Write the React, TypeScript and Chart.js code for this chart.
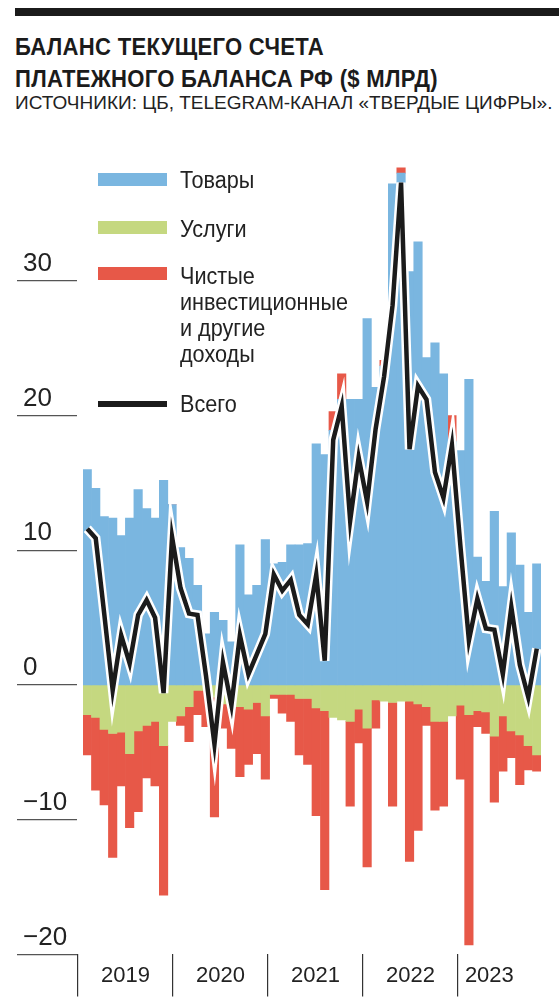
import React, { useEffect, useRef } from 'react';
import { Chart, registerables } from 'chart.js';

Chart.register(...registerables);

// ---- data (US$ bn, monthly) ----
const months = [
  '2019-01', '2019-02', '2019-03', '2019-04', '2019-05', '2019-06', '2019-07', '2019-08', '2019-09', '2019-10', '2019-11', '2019-12',
  '2020-01', '2020-02', '2020-03', '2020-04', '2020-05', '2020-06', '2020-07', '2020-08', '2020-09', '2020-10', '2020-11', '2020-12',
  '2021-01', '2021-02', '2021-03', '2021-04', '2021-05', '2021-06', '2021-07', '2021-08', '2021-09', '2021-10', '2021-11', '2021-12',
  '2022-01', '2022-02', '2022-03', '2022-04', '2022-05', '2022-06', '2022-07', '2022-08', '2022-09', '2022-10', '2022-11', '2022-12',
  '2023-01', '2023-02', '2023-03', '2023-04', '2023-05', '2023-06',
];

const goods = [
  16.0, 14.6, 12.5, 12.4, 11.1, 12.4, 14.5, 13.1, 12.4, 15.2, 13.4, 10.2,
  9.4, 7.4, 3.8, 5.4, 4.8, 3.2, 10.4, 6.7, 7.4, 10.8, 9.0, 9.1,
  10.4, 10.4, 10.5, 17.9, 17.1, 18.9, 21.2, 21.2, 21.2, 27.2, 22.1, 23.7,
  37.2, 38.0, 30.7, 32.9, 24.3, 25.4, 23.1, 18.1, 17.4, 22.7, 9.5, 7.7,
  12.9, 7.3, 11.3, 8.9, 5.4, 9.0,
];

const services = [
  -2.2, -2.4, -3.3, -3.6, -3.5, -5.1, -3.4, -3.0, -2.7, -4.5, -2.7, -2.3,
  -1.6, -0.4, -0.4, -0.9, -1.4, -1.6, -1.6, -1.8, -1.3, -2.3, -0.7, -0.7,
  -0.7, -1.0, -1.0, -1.7, -1.9, -2.4, -2.6, -2.7, -1.8, -3.2, -1.1, -1.2,
  -1.3, -1.2, -1.2, -1.4, -1.6, -2.7, -2.7, -2.3, -1.5, -2.2, -1.9, -2.0,
  -3.8, -2.3, -3.4, -3.7, -4.5, -5.2,
];

const income = [
  -3.0, -5.4, -5.6, -9.2, -4.0, -5.5, -6.0, -3.9, -4.8, -11.1, 0.0, -0.7,
  -2.6, -1.8, -2.7, -8.9, -1.8, -3.1, -5.2, -4.1, -3.8, -4.7, -0.3, -1.4,
  -2.0, -4.2, -4.9, -8.0, -13.3, 1.4, 1.9, -6.3, -2.5, -10.3, -2.1, 0.4,
  -7.7, 0.4, -11.9, -9.4, -1.4, -6.6, -6.3, 1.9, -5.5, -17.1, -1.2, -1.6,
  -4.9, -4.1, -2.0, -3.7, -1.8, -1.2,
];

const total = [
  11.6, 10.9, 5.3, -0.4, 3.7, 1.6, 5.2, 6.3, 5.0, -0.6, 11.0, 7.2,
  5.3, 5.2, 0.7, -4.4, 1.7, -1.5, 3.7, 0.8, 2.3, 3.8, 8.2, 7.0,
  7.8, 5.2, 4.5, 8.2, 1.8, 18.2, 20.7, 12.2, 16.9, 13.6, 19.0, 22.9,
  28.2, 37.3, 17.5, 22.2, 21.2, 15.8, 13.9, 17.8, 10.3, 3.3, 6.4, 4.2,
  4.1, 0.8, 5.8, 1.5, -0.9, 2.7,
];

const yTickValues = [-20, -10, 0, 10, 20, 30];
const yearLabels = ['2019', '2020', '2021', '2022', '2023'];
const yearLabelPositions = [0.5, 1.5, 2.5, 3.5, 4.33];

// ---- style ----
const FONT = '"Liberation Sans", Arial, sans-serif';
const BLUE = '#7AB6E0';
const GREEN = '#C5D880';
const RED = '#E75848';
const INK = '#1b1b1b';

export default function App() {
  const canvasRef = useRef<HTMLCanvasElement | null>(null);

  useEffect(() => {
    const canvas = canvasRef.current;
    if (!canvas) return;

    const dividerTicks = yearLabels.map((_, i) => i);
    const labelByPos = new Map<number, string>();
    yearLabelPositions.forEach((p, i) => labelByPos.set(p, yearLabels[i]));

    const chart = new Chart(canvas, {
      type: 'bar',
      data: {
        labels: months,
        datasets: [
          { type: 'bar', label: 'Товары', data: goods, backgroundColor: BLUE, borderWidth: 0, xAxisID: 'x', yAxisID: 'y', order: 0 },
          { type: 'bar', label: 'Услуги', data: services, backgroundColor: GREEN, borderWidth: 0, xAxisID: 'x', yAxisID: 'y', order: 0 },
          { type: 'bar', label: 'Чистые инвестиционные и другие доходы', data: income, backgroundColor: RED, borderWidth: 0, xAxisID: 'x', yAxisID: 'y', order: 0 },
          {
            type: 'line', label: 'outline', data: total, borderColor: '#ffffff', borderWidth: 9.5,
            pointRadius: 0, tension: 0, borderJoinStyle: 'miter', borderCapStyle: 'butt',
            xAxisID: 'x', yAxisID: 'yLine', order: -1,
          },
          {
            type: 'line', label: 'Всего', data: total, borderColor: INK, borderWidth: 4.5,
            pointRadius: 0, tension: 0, borderJoinStyle: 'miter', borderCapStyle: 'butt',
            xAxisID: 'x', yAxisID: 'yLine', order: -2,
          },
        ],
      } as any,
      options: {
        animation: false,
        responsive: false,
        maintainAspectRatio: false,
        datasets: { bar: { barPercentage: 1, categoryPercentage: 1 } },
        layout: { padding: { top: 26.2, left: 15, right: 10, bottom: 0 } },
        plugins: { legend: { display: false }, tooltip: { enabled: false } },
        scales: {
          x: { type: 'category', display: false, stacked: true, offset: true },
          x2: {
            type: 'linear',
            position: 'bottom',
            offset: false,
            bounds: 'data',
            min: 5 / 95,
            max: 463 / 95,
            border: { display: false },
            grid: {
              offset: false,
              drawOnChartArea: false,
              tickLength: 42,
              lineWidth: 1.2,
              tickColor: (ctx: any) => (ctx.tick && Number.isInteger(ctx.tick.value) ? '#333333' : 'rgba(0,0,0,0)'),
            },
            ticks: {
              autoSkip: false,
              maxRotation: 0,
              minRotation: 0,
              padding: -33.8,
              color: '#222222',
              font: { family: FONT, size: 22 },
              callback: (v: any) => labelByPos.get(Number(v)) ?? '',
            },
            afterBuildTicks: (s: any) => {
              const vals = [...dividerTicks, ...yearLabelPositions].sort((a, b) => a - b);
              s.ticks = vals.map((v) => ({ value: v }));
            },
            afterFit: (s: any) => { s.height = 45.6; },
          },
          y: {
            type: 'linear',
            stacked: true,
            min: -20,
            max: 40,
            position: 'left',
            weight: 0,
            grid: { display: false },
            border: { display: false },
            ticks: { display: false },
            afterFit: (s: any) => { s.width = 6; },
          },
          yLabels: {
            type: 'linear',
            min: -20,
            max: 40,
            position: 'left',
            weight: 1,
            border: { display: false },
            grid: { drawOnChartArea: false, tickLength: 60, tickColor: '#555555', lineWidth: 1.2 },
            ticks: {
              autoSkip: false,
              crossAlign: 'far',
              labelOffset: -17,
              padding: 0,
              color: '#222222',
              font: { family: FONT, size: 26 },
              callback: (v: any) => (Number(v) < 0 ? '\u2212' + Math.abs(Number(v)) : String(v)),
            },
            afterBuildTicks: (s: any) => { s.ticks = yTickValues.map((v) => ({ value: v })); },
            afterFit: (s: any) => { s.width = 54; },
          },
          yLine: { type: 'linear', min: -20, max: 40, display: false },
        },
      } as any,
    });

    return () => chart.destroy();
  }, []);

  const abs = (s: React.CSSProperties): React.CSSProperties => ({ position: 'absolute', ...s });
  const legendText: React.CSSProperties = {
    fontFamily: FONT, fontSize: 23, lineHeight: '26px', color: '#222', whiteSpace: 'nowrap',
    transform: 'scaleX(0.94)', transformOrigin: '0 0',
  };

  return (
    <div style={{ position: 'fixed', left: 0, top: 0, width: 559, height: 1000, background: '#fff', overflow: 'hidden' }}>
      <div style={abs({ left: 15, top: 8, width: 544, height: 8, background: INK })} />
      <div style={abs({
        left: 15, top: 30.7, fontFamily: FONT, fontWeight: 700, fontSize: 24, lineHeight: '32px',
        letterSpacing: '0.3px', color: INK, whiteSpace: 'nowrap', transform: 'scaleX(0.92)', transformOrigin: '0 0',
      })}>
        <div>БАЛАНС ТЕКУЩЕГО СЧЕТА</div>
        <div>ПЛАТЕЖНОГО БАЛАНСА РФ ($ МЛРД)</div>
      </div>
      <div style={abs({
        left: 15, top: 92.2, fontFamily: FONT, fontSize: 19, lineHeight: '22px',
        color: '#222', whiteSpace: 'nowrap',
      })}>
        ИСТОЧНИКИ: ЦБ, TELEGRAM-КАНАЛ «ТВЕРДЫЕ ЦИФРЫ».
      </div>

      <div style={abs({ left: 8, top: 120, width: 543, height: 880 })}>
        <canvas ref={canvasRef} width={543} height={880} style={{ display: 'block', width: 543, height: 880 }} />
      </div>

      <div style={abs({ left: 98, top: 173, width: 69, height: 13, background: BLUE })} />
      <div style={abs({ left: 180, top: 167.1, ...legendText })}>Товары</div>

      <div style={abs({ left: 98, top: 221, width: 69, height: 12.5, background: GREEN })} />
      <div style={abs({ left: 180, top: 216.1, ...legendText })}>Услуги</div>

      <div style={abs({ left: 98, top: 267.3, width: 69, height: 12.7, background: RED })} />
      <div style={abs({ left: 180, top: 262.9, ...legendText })}>
        <div>Чистые</div>
        <div>инвестиционные</div>
        <div>и другие</div>
        <div>доходы</div>
      </div>

      <div style={abs({ left: 98, top: 401, width: 69, height: 5.5, background: INK })} />
      <div style={abs({ left: 180, top: 390.5, ...legendText })}>Всего</div>
    </div>
  );
}
